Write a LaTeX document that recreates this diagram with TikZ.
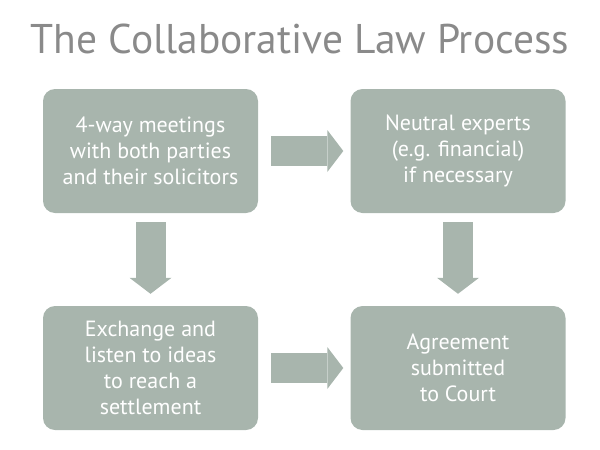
\documentclass[tikz,border=0pt]{standalone}
\usepackage{fontspec}
\setmainfont{PT Sans}
\usetikzlibrary{arrows.meta}
\definecolor{boxgreen}{HTML}{A8B5AD}
\definecolor{titlegray}{HTML}{8A8A8A}
\begin{document}
\begin{tikzpicture}[x=1pt, y=-1pt,
    box/.style={fill=boxgreen, rounded corners=12pt, minimum width=215pt,
        minimum height=124pt, inner sep=0pt, text=white, align=center,
        font=\fontsize{22}{26}\selectfont},
    bigarrow/.style={draw=boxgreen, line width=30pt,
        -{Triangle[length=16pt, width=42pt, line width=0pt]}}]

    \useasboundingbox (0,0) rectangle (600,450);

    % Titel
    \node[text=titlegray, font=\fontsize{41.5}{48}\selectfont] (title) at (300,39)
        {The Collaborative Law Process};

    % Kotak-kotak proses
    \node[box] (meet) at (150.5,151) {4-way meetings\\with both parties\\and their solicitors};
    \node[box] (expert) at (458,151) {Neutral experts\\(e.g. financial)\\if necessary};
    \node[box] (exchange) at (150.5,368) {Exchange and\\listen to ideas\\to reach a\\settlement};
    \node[box] (agree) at (458,368) {Agreement\\submitted\\to Court};

    % Panah blok antar kotak
    \draw[bigarrow, shorten <=13pt, shorten >=7pt] (meet) -- (expert);
    \draw[bigarrow, shorten <=13pt, shorten >=7pt] (exchange) -- (agree);
    \draw[bigarrow, shorten <=9pt, shorten >=12pt] (meet) -- (exchange);
    \draw[bigarrow, shorten <=9pt, shorten >=12pt] (expert) -- (agree);

\end{tikzpicture}
\end{document}
